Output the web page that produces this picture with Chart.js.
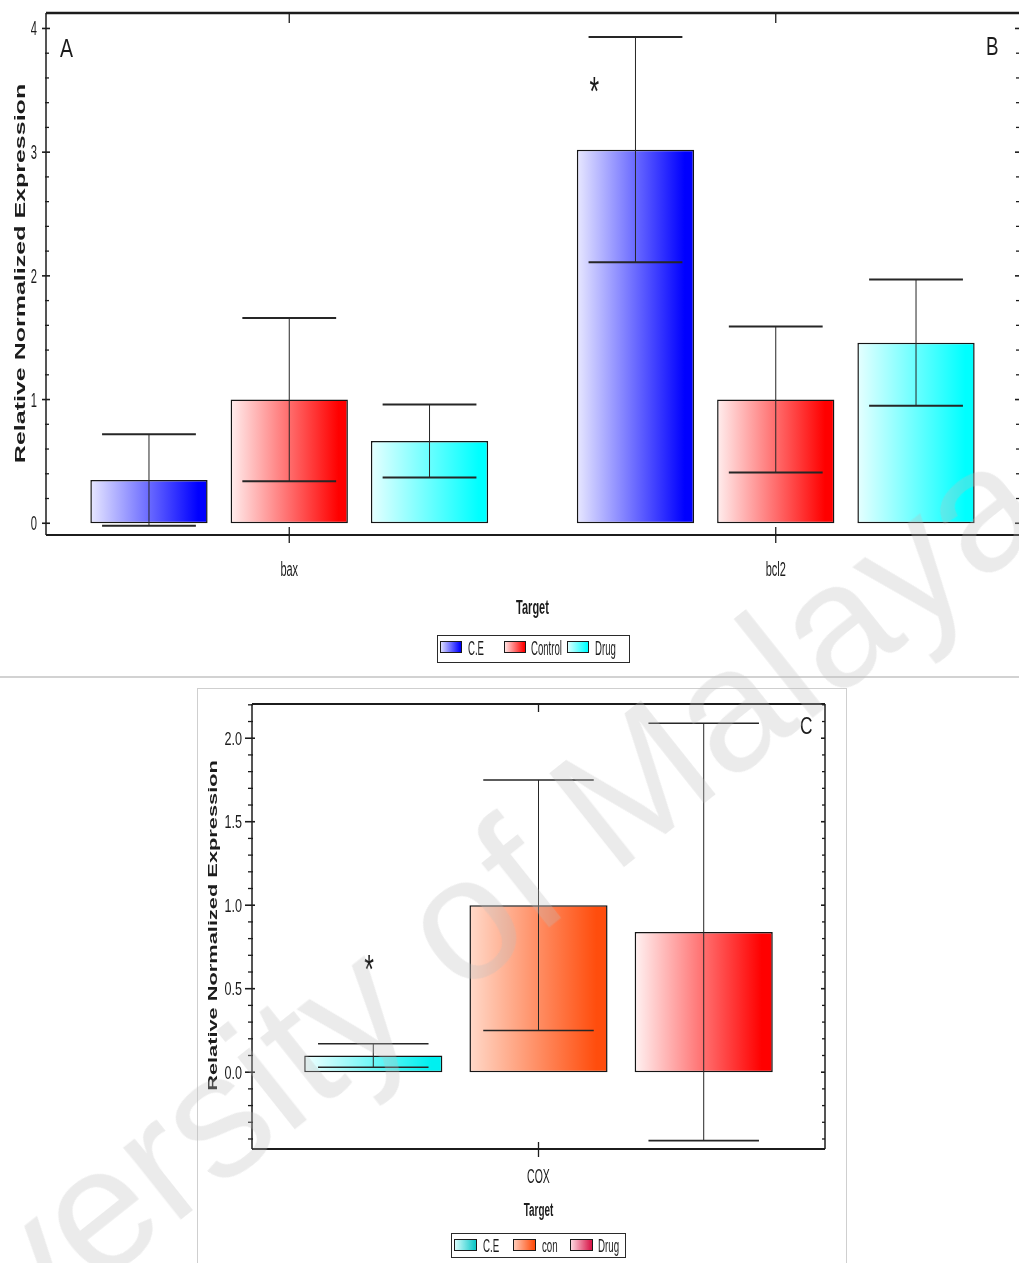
<!DOCTYPE html>
<html>
<head>
<meta charset="utf-8">
<title>Relative normalized expression</title>
<script src="https://cdn.jsdelivr.net/npm/chart.js@4.4.1/dist/chart.umd.min.js"></script>
<style>
  html, body { margin: 0; padding: 0; background: #ffffff; }
  body { position: relative; width: 1019px; height: 1263px; overflow: hidden; }
  #panelTop { position: absolute; left: 0; top: 0; }
  #rule { position: absolute; left: 0; top: 676px; width: 1019px; height: 2px; background: #d2d2d2; }
  #panelCox { position: absolute; left: 197px; top: 688px; }
  #wm {
    position: absolute; left: 400px; top: 968px;
    transform: translate(-50%, -50%) rotate(-38.5deg);
    font: 175px "Liberation Sans", Arial, sans-serif;
    line-height: 1; white-space: nowrap; pointer-events: none;
    color: rgba(190, 190, 190, 0.3);
  }
</style>
</head>
<body>
<canvas id="panelTop" width="1019" height="676"></canvas>
<div id="rule"></div>
<canvas id="panelCox" width="650" height="575"></canvas>
<div id="wm">University of Malaya</div>
<script>
// ---------- data: panels A/B (bax, bcl2) ----------
const topTargets = ['bax', 'bcl2'];
const topGroups = ['C.E', 'Control', 'Drug'];
const topCE = [0.35, 3.02];
const topControl = [1.00, 1.00];
const topDrug = [0.665, 1.46];
const topCEErr = [0.37, 0.91];
const topControlErr = [0.66, 0.59];
const topDrugErr = [0.295, 0.51];
const topYTicks = [0, 1, 2, 3, 4];

// ---------- data: panel C (COX) ----------
const coxTargets = ['COX'];
const coxGroups = ['C.E', 'con', 'Drug'];
const coxCE = [0.10];
const coxCon = [1.00];
const coxDrug = [0.84];
const coxCEErr = [0.07];
const coxConErr = [0.75];
const coxDrugErr = [1.25];
const coxYTicks = [0.0, 0.5, 1.0, 1.5, 2.0];

const FAM = '"Liberation Sans", Arial, Helvetica, sans-serif';
const INK = '#1c1c1c';

// text squeezed along the page x direction (rotated text is squeezed across its height)
function drawText(ctx, s, x, y, font, sq, align, rot) {
  ctx.save();
  ctx.translate(x, y);
  if (rot) { ctx.rotate(rot); ctx.scale(1, sq); } else { ctx.scale(sq, 1); }
  ctx.font = font;
  ctx.fillStyle = INK;
  ctx.textAlign = align || 'center';
  ctx.textBaseline = 'alphabetic';
  ctx.fillText(s, 0, 0);
  ctx.restore();
}

function seg(ctx, x0, y0, x1, y1, w) {
  if (!w) return;
  ctx.lineWidth = w;
  ctx.beginPath();
  ctx.moveTo(x0, y0);
  ctx.lineTo(x1, y1);
  ctx.stroke();
}

function hGradient(ctx, x0, x1, shades) {
  const g = ctx.createLinearGradient(x0, 0, x1, 0);
  g.addColorStop(0, shades[0]);
  g.addColorStop(0.92, shades[1]);
  g.addColorStop(1, shades[1]);
  return g;
}

// frame, ticks, labels, legend, error bars and shaded bars
function makeDecor(L) {
  return {
    id: 'decor',
    beforeDatasetsDraw(chart) {
      const ctx = chart.ctx;
      chart.data.datasets.forEach((ds, di) => {
        chart.getDatasetMeta(di).data.forEach(el => {
          el.options.backgroundColor = hGradient(ctx, el.x - el.width / 2, el.x + el.width / 2, ds.shades);
        });
      });
    },
    afterDatasetsDraw(chart) {
      const ctx = chart.ctx, ys = chart.scales.y;
      ctx.save();
      ctx.strokeStyle = '#262626';
      chart.data.datasets.forEach((ds, di) => {
        chart.getDatasetMeta(di).data.forEach((el, i) => {
          const v = ds.data[i], e = ds.errors[i];
          const hi = ys.getPixelForValue(v + e), lo = ys.getPixelForValue(v - e);
          const half = el.width * 0.4;
          seg(ctx, el.x, hi, el.x, lo, 1);
          seg(ctx, el.x - half, hi, el.x + half, hi, L.capW);
          seg(ctx, el.x - half, lo, el.x + half, lo, L.capW);
        });
      });
      ctx.restore();
    },
    afterDraw(chart) {
      const ctx = chart.ctx, ca = chart.chartArea;
      const ys = chart.scales.y, xs = chart.scales.x;
      ctx.save();
      ctx.strokeStyle = INK;

      if (L.box) {
        ctx.save();
        ctx.strokeStyle = '#cfcfcf';
        ctx.lineWidth = 1;
        ctx.strokeRect(0.5, 0.5, chart.width - 1, chart.height + 10);
        ctx.restore();
      }

      // frame
      seg(ctx, ca.left, ca.top, ca.right, ca.top, L.frame[0]);
      seg(ctx, ca.right, ca.top, ca.right, ca.bottom, L.frame[1]);
      seg(ctx, ca.left, ca.bottom, ca.right, ca.bottom, L.frame[2]);
      seg(ctx, ca.left, ca.top, ca.left, ca.bottom, L.frame[3]);

      // value axis ticks (left and right)
      const kMin = Math.ceil(ys.min / L.minorStep - 1e-6);
      const kMax = Math.floor(ys.max / L.minorStep + 1e-6);
      for (let k = kMin; k <= kMax; k++) {
        const v = k * L.minorStep;
        const py = ys.getPixelForValue(v);
        const major = L.majorTicks.some(t => Math.abs(t - v) < 1e-6);
        const lt = major ? L.leftMajor : L.leftMinor;
        const rt = major ? L.rightMajor : L.rightMinor;
        seg(ctx, ca.left - lt[0], py, ca.left + lt[1], py, major ? 1.6 : 1.3);
        seg(ctx, ca.right - rt[1], py, ca.right + rt[0], py, major ? 1.6 : 1.3);
      }
      L.majorTicks.forEach(t => {
        drawText(ctx, t.toFixed(L.decimals), ca.left - L.tickGap, ys.getPixelForValue(t) + L.tickDy,
          L.tickFont, L.tickSq, 'right');
      });

      // category ticks and labels
      chart.data.labels.forEach((lab, i) => {
        const px = xs.getPixelForValue(i);
        seg(ctx, px, ca.top, px, ca.top + L.xTickTop, 1.3);
        seg(ctx, px, ca.bottom - L.xTickBottom[0], px, ca.bottom + L.xTickBottom[1], 1.3);
        drawText(ctx, lab, px, L.catBase, L.catFont, L.catSq, 'center');
      });

      // axis titles
      const cx = (ca.left + ca.right) / 2;
      drawText(ctx, 'Target', cx, L.xTitleBase, L.xTitleFont, L.xTitleSq, 'center');
      drawText(ctx, 'Relative Normalized Expression', L.yTitle.x, L.yTitle.y, L.yTitle.font,
        L.yTitle.sq, 'center', -Math.PI / 2);

      // panel letters
      L.letters.forEach(p => drawText(ctx, p.t, p.x, p.y, p.font, p.sq, 'left'));

      // significance mark
      const st = L.star;
      const el = chart.getDatasetMeta(st.ds).data[st.idx];
      drawText(ctx, '*', el.x + st.frac * el.width, ys.getPixelForValue(st.value) + st.dy,
        st.font, st.sq, 'center');

      // legend
      const lg = L.legend;
      ctx.lineWidth = 1;
      ctx.strokeStyle = '#2a2a2a';
      ctx.strokeRect(lg.x + 0.5, lg.y + 0.5, lg.w, lg.h);
      chart.data.datasets.forEach((ds, di) => {
        const sx = lg.x + lg.sw[di], sy = lg.y + lg.swY;
        ctx.fillStyle = hGradient(ctx, sx, sx + lg.swW, ds.legendShades || ds.shades);
        ctx.fillRect(sx, sy, lg.swW, lg.swH);
        ctx.strokeStyle = '#1a1a1a';
        ctx.strokeRect(sx + 0.5, sy + 0.5, lg.swW - 1, lg.swH - 1);
        drawText(ctx, ds.label, lg.x + lg.tx[di], lg.y + lg.base, lg.font, lg.sq, 'left');
      });
      ctx.restore();
    }
  };
}

function makeChart(id, labels, groups, values, errors, shades, legendShades, yMin, yMax, padding, L) {
  return new Chart(document.getElementById(id), {
    type: 'bar',
    data: {
      labels: labels,
      datasets: groups.map((name, i) => ({
        label: name,
        data: values[i],
        errors: errors[i],
        shades: shades[i],
        legendShades: legendShades ? legendShades[i] : null,
        backgroundColor: () => shades[i][1],
        borderColor: '#151515',
        borderWidth: 1.5,
        borderSkipped: false,
        categoryPercentage: 0.865,
        barPercentage: 0.836
      }))
    },
    options: {
      responsive: false,
      animation: false,
      layout: { padding: padding },
      plugins: { legend: { display: false }, tooltip: { enabled: false } },
      scales: {
        x: { display: false, offset: true },
        y: { display: false, min: yMin, max: yMax }
      }
    },
    plugins: [makeDecor(L)]
  });
}

// panels A/B
makeChart('panelTop', topTargets, topGroups,
  [topCE, topControl, topDrug],
  [topCEErr, topControlErr, topDrugErr],
  [['#e8e8ff', '#0000ff'], ['#ffeeee', '#ff0000'], ['#e6ffff', '#00ffff']],
  null,
  -0.095, 4.125,
  { left: 46, right: 0, top: 13, bottom: 141 },
  {
    box: false,
    frame: [2.5, 0, 2, 1.5],
    capW: 2,
    minorStep: 0.2, majorTicks: topYTicks, decimals: 0,
    leftMajor: [4, 4], leftMinor: [1, 3], rightMajor: [4, 4], rightMinor: [1, 3],
    tickFont: '20px ' + FAM, tickSq: 0.56, tickGap: 9, tickDy: 7,
    xTickTop: 10, xTickBottom: [8, 8],
    catFont: '20px ' + FAM, catSq: 0.55, catBase: 576,
    xTitleFont: 'bold 20px ' + FAM, xTitleSq: 0.55, xTitleBase: 614,
    yTitle: { x: 25, y: 273.5, font: 'bold 25px ' + FAM, sq: 0.56 },
    letters: [
      { t: 'A', x: 60, y: 57, font: '26px ' + FAM, sq: 0.75 },
      { t: 'B', x: 986, y: 55, font: '25px ' + FAM, sq: 0.75 }
    ],
    star: { ds: 0, idx: 1, value: 3.56, frac: -0.35, dy: 22.6, font: '40px ' + FAM, sq: 0.62 },
    legend: { x: 437, y: 635, w: 192, h: 27, sw: [3, 67, 130], tx: [31, 94, 158],
              swY: 6, swW: 22, swH: 12, base: 20, font: '20px ' + FAM, sq: 0.48 }
  });

// panel C
makeChart('panelCox', coxTargets, coxGroups,
  [coxCE, coxCon, coxDrug],
  [coxCEErr, coxConErr, coxDrugErr],
  [['#f2ffff', '#00f0f0'], ['#ffd9c9', '#ff4d0d'], ['#fff2f2', '#ff0000']],
  [['#e0ffff', '#10c8c8'], ['#ffd0c0', '#ff4d0d'], ['#ffe0e8', '#d8184a']],
  -0.46, 2.205,
  { left: 55, right: 22, top: 16, bottom: 114 },
  {
    box: true,
    frame: [2, 1.5, 2, 1.5],
    capW: 1.6,
    minorStep: 0.1, majorTicks: coxYTicks, decimals: 1,
    leftMajor: [7, 3], leftMinor: [4, 1], rightMajor: [0, 4], rightMinor: [0, 3],
    tickFont: '18px ' + FAM, tickSq: 0.7, tickGap: 10, tickDy: 6.4,
    xTickTop: 8, xTickBottom: [7, 8],
    catFont: '21px ' + FAM, catSq: 0.5, catBase: 495,
    xTitleFont: 'bold 18px ' + FAM, xTitleSq: 0.55, xTitleBase: 528,
    yTitle: { x: 20, y: 237.5, font: 'bold 21.8px ' + FAM, sq: 0.58 },
    letters: [
      { t: 'C', x: 603, y: 46, font: '23px ' + FAM, sq: 0.75 }
    ],
    star: { ds: 0, idx: 0, value: 0.672, frac: -0.03, dy: 22.6, font: '40px ' + FAM, sq: 0.62 },
    legend: { x: 254, y: 545, w: 174, h: 24, sw: [3, 62, 119], tx: [32, 91, 147],
              swY: 6, swW: 23, swH: 12, base: 19, font: '18px ' + FAM, sq: 0.54 }
  });
</script>
</body>
</html>
